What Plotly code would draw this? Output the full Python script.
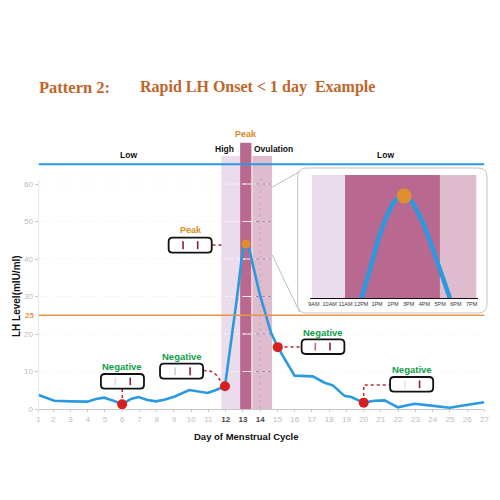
import plotly.graph_objects as go

# ---- data ----
days = [1.158, 1.58, 2.06, 3.03, 3.99, 4.48, 4.96, 5.54, 6.0, 6.51, 6.95, 7.47, 7.96, 8.44, 9.02, 9.89,
        10.96, 11.44, 11.96, 12.64, 12.99, 13.18, 13.38, 13.96, 14.25, 14.63, 15.02, 15.99, 17.05,
        17.73, 18.21, 18.89, 19.28, 20.0, 20.63, 21.21, 21.98, 22.95, 23.92, 24.98, 25.95, 26.97]
lh = [3.73, 3.02, 2.2, 2.04, 1.96, 2.67, 3.02, 2.13, 1.25, 2.67, 3.2, 2.4, 2.04, 2.49, 3.29, 5.07,
      4.27, 5.07, 6.05, 29.07, 42.4, 44.0, 42.4, 30.9, 26.4, 20.3, 16.5, 8.9, 8.7,
      7.0, 6.3, 3.5, 3.2, 1.7, 2.2, 2.3, 0.45, 1.4, 0.9, 0.35, 1.07, 1.8]
neg_days = [6.0, 11.96, 15.02, 20.0]
neg_lh = [1.25, 6.05, 16.5, 1.7]
peak_day = [13.18]
peak_lh = [44.0]
threshold = 25
x_ticks = [1.158] + list(range(2, 28))
x_labels = [str(i) for i in range(1, 28)]
y_ticks = [0, 10, 20, 30, 40, 50, 60]
high_band = [11.75, 12.84]
peak_band = [12.84, 13.49]
ovul_band = [13.55, 14.69]

hours = [12.01, 12.54, 13.17, 13.81, 14.23, 14.72, 15.19, 15.92, 16.78, 17.62]
level = [0, 28.3, 63.3, 88.3, 99, 102.3, 96.6, 75, 38.3, 0]
hour_ticks = list(range(9, 20))
hour_labels = ["9AM", "10AM", "11AM", "12PM", "1PM", "1PM", "3PM", "4PM", "5PM", "6PM", "7PM"]

BLUE, ORANGE, RED = "#2a9ae0", "#e3964a", "#d81e1e"
HIGH, PEAK, OVUL = "#eadcec", "#b9688f", "#dfbccd"
GREEN, AMBER, GOLD = "#0f9d4a", "#e08e30", "#d98a20"
DOT = "#c0282a"
SANS = "Liberation Sans"


def px(v):
    return (v - 3) / 0.984 / 500


def py(v):
    return 1 - v / 0.99 / 500


def pth(points):
    return " ".join(("M" if i == 0 else "L") + f"{px(a):.4f},{py(b):.4f}" for i, (a, b) in enumerate(points))


fig = go.Figure()
fig.add_trace(go.Scatter(x=days, y=lh, mode="lines", line=dict(color=BLUE, width=2.6), hoverinfo="skip"))
fig.add_trace(go.Scatter(x=neg_days, y=neg_lh, mode="markers", marker=dict(color=RED, size=10), hoverinfo="skip"))
fig.add_trace(go.Scatter(x=peak_day, y=peak_lh, mode="markers", marker=dict(color=AMBER, size=9), hoverinfo="skip"))
fig.add_trace(go.Scatter(x=hours, y=level, mode="lines", xaxis="x2", yaxis="y2",
                         line=dict(color=BLUE, width=4.5, shape="spline"), hoverinfo="skip"))
fig.add_trace(go.Scatter(x=[14.72], y=[102.3], mode="markers", xaxis="x2", yaxis="y2",
                         marker=dict(color=AMBER, size=15), hoverinfo="skip"))

shapes = []

# inset rounded panel goes first so it sits under the inset subplot
r = 9
x0, x1, y0, y1 = px(298), px(487), py(313), py(168)
rx, ry = r / 500, r / 500
shapes.append(dict(type="path", xref="paper", yref="paper", fillcolor="white", layer="below",
                   line=dict(color="#c4c4c4", width=1),
                   path=f"M{x0+rx},{y1} L{x1-rx},{y1} Q{x1},{y1} {x1},{y1-ry} L{x1},{y0+ry} Q{x1},{y0} {x1-rx},{y0} "
                        f"L{x0+rx},{y0} Q{x0},{y0} {x0},{y0+ry} L{x0},{y1-ry} Q{x0},{y1} {x0+rx},{y1} Z"))


def band(x0_, x1_, y1_, color):
    shapes.append(dict(type="rect", xref="x", yref="y", x0=x0_, x1=x1_, y0=0, y1=y1_,
                       fillcolor=color, line=dict(width=0), layer="below"))


band(*high_band, 67.5, HIGH)
band(*peak_band, 71.0, PEAK)
band(*ovul_band, 67.5, OVUL)
for t in y_ticks[1:]:
    right = 27.0 if t < 30 else 14.69
    shapes.append(dict(type="line", xref="x", yref="y", x0=1.158, x1=right, y0=t, y1=t, layer="below",
                       line=dict(color="#f7f5f7", width=1, dash="dot")))
    shapes.append(dict(type="line", xref="x", yref="y", x0=12.98, x1=13.35, y0=t, y1=t, layer="below",
                       line=dict(color="#efdfe8", width=1)))
    shapes.append(dict(type="line", xref="x", yref="y", x0=13.75, x1=14.6, y0=t, y1=t, layer="below",
                       line=dict(color="#a888b0", width=1, dash="dot")))
shapes.append(dict(type="line", xref="x", yref="y", x0=14, x1=14, y0=0, y1=62, layer="below",
                   line=dict(color="#cfa9c0", width=1, dash="dot")))
shapes.append(dict(type="line", xref="x", yref="y", x0=1.158, x1=1.158, y0=0, y1=61,
                   line=dict(color="#c8c8c8", width=1)))
shapes.append(dict(type="line", xref="x", yref="y", x0=1.158, x1=27.0, y0=65.25, y1=65.25,
                   line=dict(color=BLUE, width=2)))
shapes.append(dict(type="line", xref="x", yref="y", x0=1.158, x1=27.0, y0=threshold, y1=threshold,
                   line=dict(color=ORANGE, width=1.5)))

# zoom connector lines
for seg in ([(272.7, 187), (300, 171.7)], [(272.7, 255), (300, 312)]):
    shapes.append(dict(type="path", xref="paper", yref="paper", path=pth(seg), line=dict(color="#bdbdbd", width=1)))

for a, b, c in ((8.87, 10.97, HIGH), (10.97, 16.99, PEAK), (16.99, 19.29, OVUL)):
    shapes.append(dict(type="rect", xref="x2", yref="y2", x0=a, x1=b, y0=0, y1=123.3,
                       fillcolor=c, line=dict(width=0), layer="below"))

# dotted leaders
for seg in ([(123, 389), (123, 404)],
            [(204, 370.5), (211, 371), (217, 375), (222, 382)],
            [(285, 347), (302, 347)],
            [(364, 402), (364, 385), (390, 385)],
            [(213, 245), (222, 245)]):
    shapes.append(dict(type="path", xref="paper", yref="paper", path=pth(seg), line=dict(color=DOT, width=1.5, dash="dot")))


# test strips
def strip(xa, xb, ya, yb, l1, c1, l2, c2):
    a, b, t, u = px(xa), px(xb), py(ya), py(yb)
    q, s = 4 / 500, 4 / 500
    shapes.append(dict(type="path", xref="paper", yref="paper", fillcolor="white", line=dict(color="#111111", width=1.8),
                       path=f"M{a+q},{t} L{b-q},{t} Q{b},{t} {b},{t-s} L{b},{u+s} Q{b},{u} {b-q},{u} "
                            f"L{a+q},{u} Q{a},{u} {a},{u+s} L{a},{t-s} Q{a},{t} {a+q},{t} Z"))
    for xl, col in ((l1, c1), (l2, c2)):
        shapes.append(dict(type="line", xref="paper", yref="paper", x0=px(xl), x1=px(xl), y0=py(ya + 3.5), y1=py(yb - 3.5),
                           line=dict(color=col, width=1.6)))


DARK = "#8b1a4b"
strip(101.7, 144.7, 374, 388.7, 116, "#f0d8df", 131, DARK)
strip(160.7, 203.7, 363.7, 378.7, 175.7, "#d8c8d0", 190.7, DARK)
strip(302, 344.7, 339.3, 354, 315.7, "#b06a8a", 330.3, DARK)
strip(390.3, 433.3, 377, 391.7, 405, "#f0dfe6", 419.7, DARK)
strip(169.3, 212.3, 237.7, 252.7, 183.7, DARK, 198.3, DARK)

ann = []


def label(text, x, y, size=9, color="#111111", bold=True, family=SANS, angle=0):
    ann.append(dict(text=f"<b>{text}</b>" if bold else text, x=px(x), y=py(y), xref="paper", yref="paper",
                    showarrow=False, xanchor="center", yanchor="middle", textangle=angle,
                    font=dict(size=size, color=color, family=family)))


TITLE = "#c0652a"
label("Pattern 2:", 75.5, 87, 16.5, TITLE, family="Liberation Serif")
label("Rapid LH Onset &lt; 1 day  Example", 258, 87, 16, TITLE, family="Liberation Serif")
label("Peak", 246.7, 134, 9, GOLD)
label("High", 225.3, 149, 8.5)
label("Ovulation", 274, 149, 8.5)
label("Low", 129, 154.5, 8.5)
label("Low", 385.7, 154.5, 8.5)
label("Peak", 191.7, 229.5, 9, GOLD)
label("Negative", 123, 366, 9.5, GREEN)
label("Negative", 182.3, 356, 9.5, GREEN)
label("Negative", 323.3, 332, 9.5, GREEN)
label("Negative", 412, 369, 9.5, GREEN)
label("25", 30.5, 315, 8, ORANGE)
label("LH Level(mIU/ml)", 17, 296, 10, angle=-90)
label("Day of Menstrual Cycle", 247, 436, 9.5)

x_text = [f'<span style="color:#444444"><b>{s}</b></span>' if s in ("12", "13", "14") else s for s in x_labels]

fig.update_layout(
    width=500, height=500, margin=dict(l=0, r=0, t=0, b=0), autosize=False,
    paper_bgcolor="white", plot_bgcolor="rgba(0,0,0,0)", showlegend=False,
    shapes=shapes, annotations=ann,
    xaxis=dict(domain=[px(39.5), px(484.5)], range=[1.158, 27.0], anchor="y", tickvals=x_ticks, ticktext=x_text,
               showgrid=False, zeroline=False, showline=True, linecolor="#c8c8c8", linewidth=1,
               ticks="outside", ticklen=2, tickcolor="#c8c8c8",
               tickfont=dict(size=8, color="#bdbdbd", family=SANS)),
    yaxis=dict(domain=[py(409), py(139)], range=[0, 72], anchor="x", tickvals=y_ticks,
               showgrid=False, zeroline=False, showline=False,
               ticks="outside", ticklen=3, tickcolor="#c8c8c8",
               tickfont=dict(size=8, color="#bdbdbd", family=SANS)),
    xaxis2=dict(domain=[px(310.7), px(478)], range=[8.77, 19.4], anchor="y2", tickvals=hour_ticks, ticktext=hour_labels,
                showgrid=False, zeroline=False, showline=True, linecolor="#111111", linewidth=1.2,
                ticks="", tickangle=0, tickfont=dict(size=5.5, color="#333333", family=SANS)),
    yaxis2=dict(domain=[py(298.3), py(175)], range=[0, 123.3], anchor="x2", visible=False),
)
fig.write_html("out.html", post_script="document.body.style.margin='0';", config=dict(displayModeBar=False))
